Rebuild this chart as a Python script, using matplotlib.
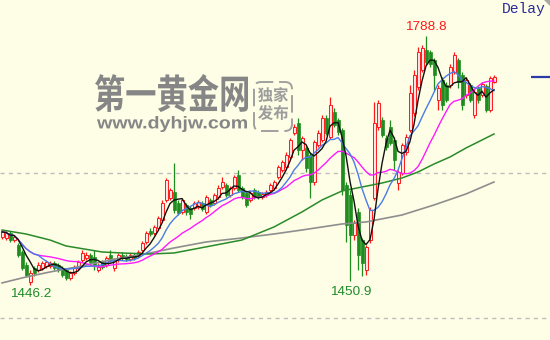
import numpy as np
import pandas as pd
import matplotlib
matplotlib.use("Agg")
import matplotlib.pyplot as plt
from matplotlib.textpath import TextPath
from matplotlib.patches import PathPatch, FancyBboxPatch, Polygon
from matplotlib.font_manager import FontProperties
from matplotlib.transforms import Affine2D

# ─── data ─────────────────────────────────────────────────────────────────────

opens = [1511.8, 1510.4, 1517.3, 1507.6, 1500.7, 1491.1, 1473.2, 1449.7, 1469.0, 1466.3,
         1469.0, 1471.8, 1471.8, 1475.9, 1473.2, 1469.0, 1466.3, 1455.2, 1462.1, 1469.0,
         1480.1, 1482.8, 1487.0, 1484.2, 1466.3, 1477.3, 1473.2, 1487.0, 1469.0, 1480.1,
         1487.0, 1485.6, 1481.4, 1487.0, 1485.6, 1493.9, 1504.9, 1520.1, 1517.3, 1524.2,
         1535.2, 1562.8, 1565.6, 1573.8, 1558.7, 1546.3, 1555.9, 1551.8, 1551.8, 1553.2,
         1558.7, 1546.3, 1562.8, 1558.7, 1566.9, 1580.7, 1583.5, 1569.7, 1579.3, 1597.3,
         1579.3, 1572.5, 1562.8, 1576.6, 1573.8, 1566.9, 1569.7, 1576.6, 1579.3, 1594.5,
         1604.2, 1608.3, 1622.1, 1655.2, 1669.0, 1631.8, 1634.5, 1624.9, 1587.6, 1638.6,
         1645.5, 1675.9, 1649.7, 1684.2, 1673.1, 1659.3, 1583.5, 1569.7, 1514.5, 1546.3,
         1507.6, 1466.3, 1507.6, 1565.6, 1663.5, 1673.1, 1648.3, 1663.5, 1645.5, 1586.2,
         1600.0, 1629.0, 1659.3, 1682.8, 1718.6, 1742.1, 1769.7, 1766.9, 1755.9, 1700.7,
         1728.3, 1721.4, 1721.4, 1739.3, 1755.9, 1735.2, 1707.6, 1721.4, 1680.0, 1717.2,
         1707.6, 1719.9, 1686.9, 1725.5]
closes = [1518.7, 1517.3, 1507.6, 1511.8, 1487.0, 1469.0, 1459.4, 1462.1, 1462.1, 1473.2,
          1475.9, 1477.3, 1475.9, 1469.0, 1466.3, 1459.4, 1455.2, 1462.1, 1470.4, 1477.3,
          1489.7, 1487.0, 1477.3, 1473.2, 1470.4, 1470.4, 1482.8, 1480.1, 1480.1, 1487.0,
          1482.8, 1481.4, 1487.0, 1482.8, 1491.1, 1503.5, 1517.3, 1515.9, 1525.6, 1538.0,
          1558.7, 1590.4, 1576.6, 1549.0, 1544.9, 1562.8, 1546.3, 1543.5, 1558.7, 1560.0,
          1550.4, 1566.9, 1555.9, 1569.7, 1579.3, 1587.6, 1569.7, 1579.3, 1594.5, 1576.6,
          1566.9, 1555.9, 1572.5, 1566.9, 1566.9, 1571.1, 1573.8, 1583.5, 1587.6, 1608.3,
          1615.2, 1624.9, 1645.5, 1663.5, 1631.8, 1648.3, 1606.9, 1587.6, 1642.8, 1655.2,
          1675.9, 1655.2, 1693.8, 1666.2, 1656.6, 1576.6, 1528.3, 1514.5, 1531.1, 1487.0,
          1475.9, 1498.0, 1549.0, 1669.0, 1696.6, 1652.4, 1635.9, 1641.4, 1618.0, 1601.4,
          1638.6, 1649.7, 1710.4, 1735.2, 1766.9, 1772.4, 1753.1, 1750.3, 1735.2, 1717.2,
          1693.8, 1700.7, 1746.2, 1762.8, 1725.5, 1693.8, 1728.3, 1700.7, 1711.7, 1700.7,
          1722.7, 1686.9, 1731.0, 1732.4]
highs = [1521.4, 1520.1, 1520.1, 1514.5, 1503.5, 1493.9, 1477.3, 1466.3, 1471.8, 1477.3,
         1478.7, 1480.1, 1478.7, 1478.7, 1475.9, 1471.8, 1469.0, 1464.9, 1473.2, 1480.1,
         1493.9, 1491.1, 1489.7, 1493.9, 1475.9, 1480.1, 1485.6, 1493.9, 1482.8, 1489.7,
         1491.1, 1488.3, 1489.7, 1489.7, 1493.9, 1506.3, 1520.1, 1524.2, 1528.3, 1540.8,
         1562.8, 1593.1, 1579.3, 1613.8, 1562.8, 1565.6, 1558.7, 1554.5, 1561.4, 1562.8,
         1561.4, 1569.7, 1565.6, 1572.5, 1583.5, 1594.5, 1586.2, 1582.1, 1597.3, 1604.2,
         1582.1, 1575.2, 1575.2, 1579.3, 1576.6, 1573.8, 1576.6, 1586.2, 1590.4, 1611.1,
         1618.0, 1629.0, 1648.3, 1667.6, 1675.9, 1651.1, 1637.3, 1629.0, 1645.5, 1659.3,
         1680.0, 1680.0, 1704.8, 1689.7, 1675.9, 1662.1, 1587.6, 1576.6, 1535.2, 1551.8,
         1510.4, 1500.7, 1553.2, 1698.0, 1700.7, 1677.3, 1652.4, 1673.1, 1649.7, 1604.2,
         1641.4, 1653.8, 1721.4, 1742.1, 1773.8, 1776.5, 1788.8, 1769.7, 1758.6, 1721.4,
         1732.4, 1725.5, 1750.3, 1766.9, 1758.6, 1739.3, 1732.4, 1724.1, 1717.2, 1719.9,
         1725.5, 1722.7, 1733.8, 1735.2]
lows = [1509.0, 1507.6, 1504.9, 1504.9, 1484.2, 1466.3, 1456.6, 1446.2, 1458.0, 1463.5,
        1466.3, 1469.0, 1469.0, 1466.3, 1463.5, 1456.6, 1452.5, 1452.5, 1459.4, 1466.3,
        1477.3, 1480.1, 1473.2, 1466.3, 1463.5, 1467.6, 1470.4, 1477.3, 1464.9, 1477.3,
        1480.1, 1478.7, 1478.7, 1480.1, 1482.8, 1491.1, 1502.1, 1513.2, 1514.5, 1521.4,
        1532.5, 1560.0, 1562.8, 1544.9, 1542.1, 1543.5, 1542.1, 1536.6, 1549.0, 1550.4,
        1547.6, 1543.5, 1553.2, 1555.9, 1564.2, 1578.0, 1566.9, 1566.9, 1576.6, 1573.8,
        1564.2, 1553.2, 1560.0, 1564.2, 1564.2, 1564.2, 1566.9, 1573.8, 1576.6, 1591.8,
        1601.4, 1605.6, 1619.3, 1652.4, 1624.9, 1618.0, 1601.4, 1565.6, 1583.5, 1635.9,
        1642.8, 1652.4, 1646.9, 1663.5, 1652.4, 1569.7, 1504.9, 1450.9, 1507.6, 1466.3,
        1458.0, 1459.4, 1503.5, 1562.8, 1659.3, 1649.7, 1631.8, 1638.6, 1604.2, 1576.6,
        1597.3, 1624.9, 1656.6, 1678.6, 1714.5, 1739.3, 1749.0, 1746.2, 1714.5, 1686.9,
        1686.9, 1698.0, 1717.2, 1736.6, 1717.2, 1686.9, 1703.5, 1698.0, 1675.9, 1696.6,
        1704.8, 1684.2, 1684.2, 1724.1]

# long moving averages, read at a few candles
ma60_idx = [0, 6, 12, 16, 25, 30, 37, 43, 47, 60, 68, 75, 80, 85, 90, 95, 100, 104, 108, 112, 116, 123]
ma60_val = [1521.4, 1515.9, 1507.6, 1499.4, 1491.1, 1489.7, 1488.3, 1489.7, 1493.9, 1507.6, 1525.6,
            1546.3, 1562.8, 1575.2, 1580.7, 1586.2, 1593.1, 1601.4, 1612.4, 1622.1, 1634.5, 1653.8]
ma120_idx = [0, 6, 12, 20, 27, 37, 43, 51, 60, 68, 75, 85, 91, 100, 108, 116, 123]
ma120_val = [1448.4, 1456.6, 1463.5, 1471.8, 1480.1, 1489.7, 1496.6, 1504.9, 1510.4, 1515.9,
             1521.4, 1529.7, 1532.5, 1542.1, 1555.9, 1571.1, 1587.6]

grid_levels = [1400, 1600]

# ─── style ────────────────────────────────────────────────────────────────────

W, H, DPI = 550, 340, 100
BG = "#fefee6"
UP_EDGE, UP_FACE = "#ff1a1a", "#ffe2e2"
DOWN = "#1e8c1e"
WM = "#868686"

fig = plt.figure(figsize=(W / DPI, H / DPI), dpi=DPI, facecolor=BG)
ax = fig.add_axes([0, 0, 1, 1])
ax.axis("off")
ax.set_xlim(-0.5, 137)
ax.set_ylim(1369.7, 1838.6)

px = Affine2D().scale(1 / DPI) + fig.dpi_scale_trans   # pixel units, origin bottom-left


def fit_text(s, prop, x0, y0, x1, y1, color):
    """Draw s stretched into the image-pixel box (x0, y0)-(x1, y1), y measured from top."""
    tp = TextPath((0, 0), s, size=20, prop=prop)
    ext = tp.get_extents()
    tr = (Affine2D().translate(-ext.x0, -ext.y0)
          .scale((x1 - x0) / ext.width, (y1 - y0) / ext.height)
          .translate(x0, H - y1)) + px
    ax.add_patch(PathPatch(tp, transform=tr, facecolor=color, edgecolor="none", zorder=1))


# watermark
cjk_b = FontProperties(family="Noto Sans CJK SC", weight="bold")
fit_text("第一黄金网", cjk_b, 95, 74, 248, 112, WM)
fit_text("www.dyhjw.com", FontProperties(family="Liberation Sans", weight="bold"),
         97, 116, 247, 132, WM)
fit_text("独家", cjk_b, 258, 87, 288, 102, "#9c9c9c")
fit_text("发布", cjk_b, 258, 105, 288, 120, "#9c9c9c")
ax.add_patch(FancyBboxPatch((254, H - 131), 38, 49, transform=px,
                            boxstyle="round,pad=0,rounding_size=7",
                            facecolor="none", edgecolor="#a0a0a0", lw=1.4,
                            ls=(0, (9, 3)), zorder=1))

for lv in grid_levels:
    ax.axhline(lv, color="#bdbdbd", lw=1, ls=(0, (3, 3)), zorder=0)

# candles
o = np.array(opens); c = np.array(closes)
hi = np.array(highs); lo = np.array(lows)
x = np.arange(len(o))
up = c >= o
ax.vlines(x[up], lo[up], hi[up], colors=UP_EDGE, lw=0.9, zorder=2)
ax.vlines(x[~up], lo[~up], hi[~up], colors=DOWN, lw=0.9, zorder=2)
body = np.maximum(np.abs(c - o), 0.8)
ax.bar(x[up], body[up], bottom=np.minimum(o, c)[up], width=0.75,
       facecolor=UP_FACE, edgecolor=UP_EDGE, lw=0.7, zorder=2.5)
ax.bar(x[~up], body[~up], bottom=np.minimum(o, c)[~up], width=0.75,
       facecolor=DOWN, edgecolor=DOWN, lw=0.5, zorder=2.5)

# moving averages
s = pd.Series(c)
ax.plot(ma120_idx, ma120_val, color="#8e8e8e", lw=1.2, zorder=3)
ax.plot(ma60_idx, ma60_val, color="#2a8a2a", lw=1.1, zorder=3)
ax.plot(x, s.rolling(20, min_periods=1).mean(), color="#ff1aff", lw=1.0, zorder=3)
ax.plot(x, s.rolling(10, min_periods=1).mean(), color="#4a7be6", lw=1.0, zorder=3)
ax.plot(x, s.rolling(5, min_periods=1).mean(), color="#111111", lw=1.0, zorder=3.2)

# high / low labels
lab = dict(textcoords="offset pixels", ha="center", va="center",
           family="Liberation Sans", fontsize=9.7, zorder=4)
i_lo1 = int(np.argmin(lo))
i_lo2 = 80 + int(np.argmin(lo[80:]))
i_hi = int(np.argmax(hi))
ax.annotate(f"{lo[i_lo1]:.1f}", (x[i_lo1], lo[i_lo1]), xytext=(1, -9), color="#1f8a2a", **lab)
ax.annotate(f"{lo[i_lo2]:.1f}", (x[i_lo2], lo[i_lo2]), xytext=(1, -11), color="#1f8a2a", **lab)
ax.annotate(f"{hi[i_hi]:.1f}", (x[i_hi], hi[i_hi]), xytext=(0, 9), color="#ff1a1a", **lab)

# last-price marker and header bits
ax.hlines(c[-1], 132.3, 137, color="#2a3aa8", lw=1.6, zorder=4)
fig.text(502 / W, 1 - 2 / H, "Delay", ha="left", va="top", color="#2a2a9c",
         family="Liberation Mono", fontsize=10.5)
ax.add_patch(Polygon([(544, H), (550, H), (550, H - 6)], closed=True, transform=px,
                     facecolor="#a8a8a8", edgecolor="none", zorder=4))

fig.savefig("out.png", dpi=DPI, facecolor=BG)
